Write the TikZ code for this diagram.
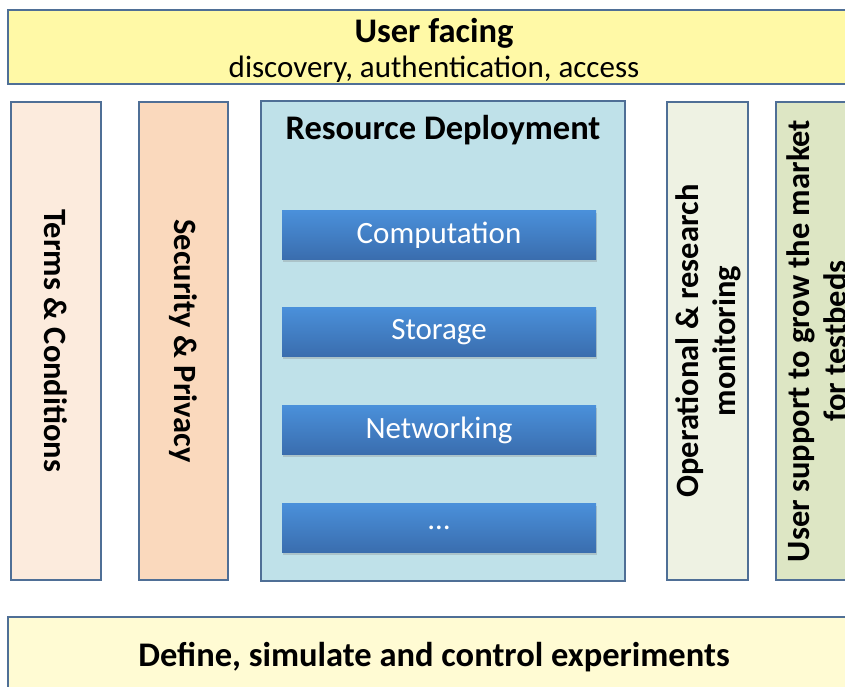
\documentclass[tikz,border=0pt]{standalone}
\usepackage{fontspec}
\setmainfont{Carlito}
\usetikzlibrary{shadows}
\definecolor{edge}{HTML}{4F6F96}
\definecolor{topfill}{HTML}{FFF9A6}
\definecolor{botfill}{HTML}{FFFBD3}
\definecolor{termfill}{HTML}{FCEBDD}
\definecolor{secfill}{HTML}{FAD9BD}
\definecolor{resfill}{HTML}{BFE1E9}
\definecolor{opfill}{HTML}{EEF2E3}
\definecolor{supfill}{HTML}{DDE6C4}
\definecolor{bartop}{HTML}{4A90DA}
\definecolor{barbot}{HTML}{3A6DAE}
\tikzset{
  panel/.style={draw=edge, line width=2.6pt, inner sep=0pt},
  bar/.style={draw=none, top color=bartop, bottom color=barbot, minimum width=314pt, minimum height=49pt,
     text=white, font=\fontsize{31}{34}\selectfont, drop shadow={shadow xshift=1pt, shadow yshift=-2pt, opacity=0.3}},
  headtext/.style={font=\fontsize{34.5}{38}\selectfont\bfseries, align=center, text=black},
  coltext/.style={font=\fontsize{32.5}{37}\selectfont\bfseries, align=center, text=black}
}
\begin{document}
\begin{tikzpicture}[x=1pt,y=-1pt]
\useasboundingbox (0,0) rectangle (845,687);
\clip (0,0) rectangle (845,687);
% top
\draw[panel, fill=topfill] (8,10) rectangle (880,84);
\node[headtext] (uf) at (434,33) {User facing};
\node[font=\fontsize{31}{34}\selectfont] (ufs) at (434,69) {discovery, authentication, access};
% columns
\draw[panel, fill=termfill] (11,102) rectangle (101,580);
\node[coltext, rotate=-90] (terms) at (56,341) {Terms \& Conditions};
\draw[panel, fill=secfill] (139,102) rectangle (228,580);
\node[coltext, rotate=-90] (sec) at (183,341) {Security \& Privacy};
\draw[panel, fill=resfill] (261,101) rectangle (625,581);
\node[headtext] (res) at (443,130) {Resource Deployment};
\node[bar] (comp) at (439,235) {Computation};
\node[bar] (stor) at (439,332) {Storage};
\node[bar] (net) at (439,430) {Networking};
\node[bar] (dots) at (439,528) {\dots};
\draw[panel, fill=opfill] (667,102) rectangle (748,580);
\node[coltext, rotate=90] (op) at (708,341) {Operational \& research\\monitoring};
\draw[panel, fill=supfill] (776,102) rectangle (870,580);
\node[coltext, rotate=90] (sup) at (817,341) {User support to grow the market\\for testbeds};
% bottom
\draw[panel, fill=botfill] (8,617) rectangle (880,720);
\node[headtext] (exp) at (434,657) {Define, simulate and control experiments};
\end{tikzpicture}
\end{document}
